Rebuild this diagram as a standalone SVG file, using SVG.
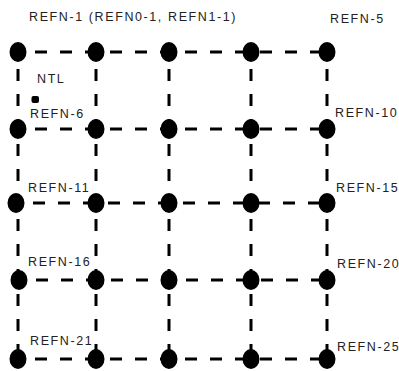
<svg xmlns="http://www.w3.org/2000/svg" width="399" height="371" viewBox="0 0 399 371">
  <style>
    .edge { stroke: #000; stroke-width: 3; stroke-dasharray: 12 13; stroke-dashoffset: 8; fill: none; }
    .node { fill: #000; }
    .lbl { font-family: "Liberation Sans", Arial, sans-serif; font-size: 12.5px; letter-spacing: 1.6px; fill: #222; }
  </style>
  <rect width="399" height="371" fill="#fff"/>

  <!-- dashed grid connectors -->
  <g id="connectors">
    <!-- horizontal -->
    <line class="edge" x1="18" y1="52" x2="327" y2="52"/>
    <line class="edge" x1="18" y1="129" x2="327" y2="129"/>
    <line class="edge" x1="16" y1="203" x2="327" y2="203"/>
    <line class="edge" x1="19" y1="280" x2="327" y2="280"/>
    <line class="edge" x1="18" y1="359" x2="327" y2="359"/>
    <!-- vertical -->
    <line class="edge" x1="18" y1="52" x2="18" y2="359"/>
    <line class="edge" x1="96" y1="52" x2="96" y2="359"/>
    <line class="edge" x1="169" y1="52" x2="169" y2="359"/>
    <line class="edge" x1="251" y1="52" x2="251" y2="359"/>
    <line class="edge" x1="327" y1="52" x2="327" y2="359"/>
  </g>

  <!-- row 1 -->
  <g id="n1"><ellipse class="node" cx="18" cy="52" rx="8.5" ry="10"/></g>
  <g id="n2"><ellipse class="node" cx="96" cy="52" rx="8.5" ry="10"/></g>
  <g id="n3"><ellipse class="node" cx="169" cy="52" rx="8.5" ry="10"/></g>
  <g id="n4"><ellipse class="node" cx="251" cy="52" rx="8.5" ry="10"/></g>
  <g id="n5"><ellipse class="node" cx="327" cy="52" rx="8.5" ry="10"/></g>
  <!-- row 2 -->
  <g id="n6"><ellipse class="node" cx="18" cy="129" rx="8.5" ry="10"/></g>
  <g id="n7"><ellipse class="node" cx="96" cy="129" rx="8.5" ry="10"/></g>
  <g id="n8"><ellipse class="node" cx="169" cy="129" rx="8.5" ry="10"/></g>
  <g id="n9"><ellipse class="node" cx="251" cy="129" rx="8.5" ry="10"/></g>
  <g id="n10"><ellipse class="node" cx="327" cy="129" rx="8.5" ry="10"/></g>
  <!-- row 3 -->
  <g id="n11"><ellipse class="node" cx="16" cy="203" rx="8.5" ry="10"/></g>
  <g id="n12"><ellipse class="node" cx="96" cy="203" rx="8.5" ry="10"/></g>
  <g id="n13"><ellipse class="node" cx="169" cy="203" rx="8.5" ry="10"/></g>
  <g id="n14"><ellipse class="node" cx="251" cy="203" rx="8.5" ry="10"/></g>
  <g id="n15"><ellipse class="node" cx="327" cy="203" rx="8.5" ry="10"/></g>
  <!-- row 4 -->
  <g id="n16"><ellipse class="node" cx="19" cy="280" rx="8.5" ry="10"/></g>
  <g id="n17"><ellipse class="node" cx="96" cy="280" rx="8.5" ry="10"/></g>
  <g id="n18"><ellipse class="node" cx="169" cy="280" rx="8.5" ry="10"/></g>
  <g id="n19"><ellipse class="node" cx="251" cy="280" rx="8.5" ry="10"/></g>
  <g id="n20"><ellipse class="node" cx="327" cy="280" rx="8.5" ry="10"/></g>
  <!-- row 5 -->
  <g id="n21"><ellipse class="node" cx="18" cy="359" rx="8.5" ry="10"/></g>
  <g id="n22"><ellipse class="node" cx="96" cy="359" rx="8.5" ry="10"/></g>
  <g id="n23"><ellipse class="node" cx="169" cy="359" rx="8.5" ry="10"/></g>
  <g id="n24"><ellipse class="node" cx="251" cy="359" rx="8.5" ry="10"/></g>
  <g id="n25"><ellipse class="node" cx="327" cy="359" rx="8.5" ry="10"/></g>

  <!-- terminal marker -->
  <g id="ntl">
    <rect x="31.5" y="96" width="7.5" height="7" rx="2" fill="#000"/>
    <text class="lbl" x="37" y="83">NTL</text>
  </g>

  <!-- labels -->
  <g id="labels">
    <text class="lbl" x="29" y="21">REFN-1 (REFN0-1, REFN1-1)</text>
    <text class="lbl" x="330" y="23">REFN-5</text>
    <text class="lbl" x="30" y="118">REFN-6</text>
    <text class="lbl" x="335" y="117">REFN-10</text>
    <text class="lbl" x="28" y="192">REFN-11</text>
    <text class="lbl" x="336" y="192">REFN-15</text>
    <text class="lbl" x="28" y="266">REFN-16</text>
    <text class="lbl" x="337" y="268">REFN-20</text>
    <text class="lbl" x="30" y="345">REFN-21</text>
    <text class="lbl" x="337" y="351">REFN-25</text>
  </g>
</svg>
